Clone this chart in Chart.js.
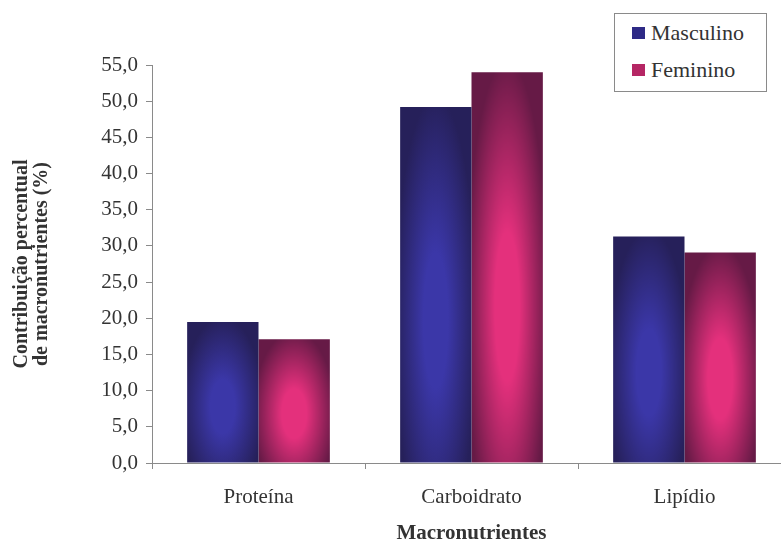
<!DOCTYPE html>
<html>
<head>
<meta charset="utf-8">
<script src="https://cdn.jsdelivr.net/npm/chart.js@4.4.0/dist/chart.umd.min.js"></script>
<style>
  html, body { margin: 0; padding: 0; background: #fff; overflow: hidden; }
  #wrap { position: relative; width: 781px; height: 544px; overflow: hidden; }
  #chart { position: absolute; left: 0; top: 0; }
  #legend {
    position: absolute; left: 614px; top: 13px; width: 151px; height: 77px;
    border: 1px solid #8a8a8a; background: #fff;
    font-family: "Liberation Serif", "Times New Roman", serif; font-size: 22px; color: #333;
  }
  #legend .item { position: absolute; left: 17px; display: flex; align-items: center; white-space: nowrap; }
  #legend .sw { width: 13px; height: 12px; margin-right: 6px; }
</style>
</head>
<body>
<div id="wrap">
  <canvas id="chart" width="791" height="544" style="width:791px;height:544px"></canvas>
  <div id="legend"></div>
</div>
<script>
// categories and series
const categories = ['Proteína', 'Carboidrato', 'Lipídio'];
const seriesNames = ['Masculino', 'Feminino'];
const masculino = [19.5, 49.2, 31.3];
const feminino = [17.1, 54.0, 29.1];
const yTicks = [0, 5, 10, 15, 20, 25, 30, 35, 40, 45, 50, 55];

// colours of each series: dark edge, lighter glow in the middle
const shades = [
  { edge: '#26205a', mid: '#3b37a8', swatch: '#2e2a86' },
  { edge: '#661a46', mid: '#e4307c', swatch: '#b52664' }
];

const CAT_PCT = 0.67;
const serif = '"Liberation Serif", "Times New Roman", serif';

/**
 * Build a shaded fill for one bar, placed with the chart's own scales
 */
function barFill(ctx) {
  const shade = shades[ctx.datasetIndex];
  const chart = ctx.chart;
  const xs = chart.scales.x;
  const ys = chart.scales.y;
  if (!xs || !ys || ctx.raw === undefined || !xs.width) return shade.swatch;

  const n = chart.data.datasets.length;
  const catW = xs.width / chart.data.labels.length;
  const groupW = catW * CAT_PCT;
  const barW = groupW / n;
  const left = xs.getPixelForValue(ctx.dataIndex) - groupW / 2 + ctx.datasetIndex * barW;
  const top = ys.getPixelForValue(ctx.raw);
  const h = ys.getPixelForValue(0) - top;
  if (h < 2 || barW < 2) return shade.swatch;

  // pad the pattern so that rounded bar edges are always covered
  const pad = 3;
  const off = document.createElement('canvas');
  off.width = Math.ceil(barW) + pad * 2;
  off.height = Math.ceil(h) + pad * 2;
  const g = off.getContext('2d');
  g.fillStyle = shade.edge;
  g.fillRect(0, 0, off.width, off.height);
  g.save();
  g.translate(pad + barW / 2, pad + h * 0.6);
  g.scale(barW / 2, Math.max(h * 0.55, barW));
  const rg = g.createRadialGradient(0, 0, 0, 0, 0, 1.15);
  rg.addColorStop(0, shade.mid);
  rg.addColorStop(0.3, shade.mid);
  rg.addColorStop(1, shade.edge);
  g.fillStyle = rg;
  g.fillRect(-3, -3, 6, 6);
  g.restore();

  const pat = chart.ctx.createPattern(off, 'no-repeat');
  pat.setTransform(new DOMMatrix().translate(left - pad, top - pad));
  return pat;
}

// html legend
const legendEl = document.getElementById('legend');
seriesNames.forEach((name, i) => {
  const item = document.createElement('div');
  item.className = 'item';
  item.style.top = (i === 0 ? 6 : 43) + 'px';
  item.innerHTML = '<span class="sw" style="background:' + shades[i].swatch + '"></span>' + name;
  legendEl.appendChild(item);
});

new Chart(document.getElementById('chart'), {
  type: 'bar',
  data: {
    labels: categories,
    datasets: [
      { label: seriesNames[0], data: masculino, backgroundColor: barFill, borderWidth: 0 },
      { label: seriesNames[1], data: feminino, backgroundColor: barFill, borderWidth: 0 }
    ]
  },
  options: {
    responsive: false,
    animation: false,
    layout: { padding: { top: 65, right: 0, left: 0, bottom: 0 } },
    datasets: { bar: { categoryPercentage: CAT_PCT, barPercentage: 1.0 } },
    plugins: {
      legend: { display: false },
      tooltip: { enabled: false }
    },
    scales: {
      x: {
        grid: { display: true, drawOnChartArea: false, drawTicks: true, tickLength: 6, color: '#8a8a8a', offset: true },
        border: { display: true, color: '#8a8a8a', width: 1 },
        ticks: { color: '#333', padding: 16, font: { family: serif, size: 21 } },
        title: {
          display: true, text: 'Macronutrientes', color: '#333',
          font: { family: serif, size: 21, weight: 'bold', lineHeight: 1 },
          padding: { top: 0, bottom: 0 }
        },
        afterFit(scale) { scale.height = 81; }
      },
      y: {
        min: 0,
        max: 55,
        afterBuildTicks(scale) { scale.ticks = yTicks.map(v => ({ value: v })); },
        grid: { display: true, drawOnChartArea: false, drawTicks: true, tickLength: 6, color: '#8a8a8a' },
        border: { display: true, color: '#8a8a8a', width: 1 },
        ticks: {
          color: '#333', padding: 8, font: { family: serif, size: 21 },
          callback: v => v.toFixed(1).replace('.', ',')
        },
        title: {
          display: true,
          text: ['Contribuição percentual', 'de macronutrientes (%)'],
          color: '#333',
          font: { family: serif, size: 20, weight: 'bold', lineHeight: 1 },
          padding: { top: 12, bottom: 0 }
        },
        afterFit(scale) { scale.width = 152; }
      }
    }
  }
});
</script>
</body>
</html>
